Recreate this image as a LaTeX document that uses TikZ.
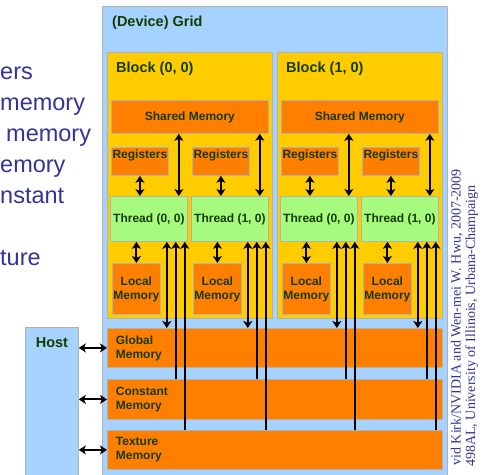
\documentclass[tikz,border=0pt]{standalone}
\usepackage{fontspec}
\setmainfont{Liberation Sans}
\newfontfamily\creditfont{Liberation Serif}
\usepackage{xcolor}
\usetikzlibrary{arrows.meta,positioning,calc}

\definecolor{gridblue}{HTML}{A6D2FF}
\definecolor{blockyellow}{HTML}{FFCC00}
\definecolor{memorange}{HTML}{FF7F00}
\definecolor{threadgreen}{HTML}{A6FA7E}
\definecolor{lblgreen}{HTML}{143C00}
\definecolor{slideblue}{HTML}{333399}

\begin{document}
\begin{tikzpicture}[
  x=1pt, y=-1pt,
  box/.style={draw=black!30, line width=0.8pt, anchor=north west, inner sep=0pt,
    font=\bfseries\fontsize{12}{14}\selectfont, text=lblgreen, align=center},
  head/.style={font=\bfseries\fontsize{14.5}{16}\selectfont, text=lblgreen, inner sep=0pt},
  membox/.style={box, fill=memorange},
  bigmem/.style={membox, minimum width=335, minimum height=39, text width=318, align=left},
  arr/.style={{Stealth[length=7pt, width=9pt, inset=1.8pt]}-{Stealth[length=7pt, width=9pt, inset=1.8pt]},
    line width=1.9pt},
  arrup/.style={{Stealth[length=7pt, width=9pt, inset=1.8pt]}-, line width=1.9pt},
  slide/.style={anchor=base west, inner sep=0pt, text=slideblue, font=\fontsize{23.5}{28}\selectfont},
  credit/.style={rotate=90, anchor=base east, inner sep=0pt, text=slideblue,
    font=\creditfont\fontsize{14}{16}\selectfont}
]
  \path[use as bounding box, clip] (0,0) rectangle (490,474);

  % slide text cut off on the left
  \foreach \x/\y/\txt [count=\i] in {0/79/ers, 0/110/memory, 6/141/memory, 0/172/emory, 0/203/nstant, 0/265/ture}
    \node[slide] (line\i) at (\x,\y) {\txt};

  \node[box, fill=gridblue, minimum width=345, minimum height=480,
    label={[head, anchor=base west, xshift=10pt, yshift=-20.5pt]north west:(Device) Grid}] (grid) at (102,6) {};
  \node[box, fill=gridblue, minimum width=53, minimum height=160,
    label={[head, anchor=base, yshift=-20pt]north:Host}] (host) at (25,327) {};

  \node[bigmem] (glob) at (107,328) {Global\\Memory};
  \node[bigmem, minimum height=40] (const) at (107,379) {Constant\\Memory};
  \node[bigmem] (tex) at (107,430) {Texture\\Memory};
  \foreach \mem in {glob,const,tex}
    \draw[arr] (\mem.west -| host.east) -- (\mem.west);

  \foreach \bx in {0,1} {
    \node[box, fill=blockyellow, minimum width=165, minimum height=266,
      label={[head, anchor=base west, xshift=9pt, yshift=-20pt]north west:Block (\bx, 0)}] (blk\bx) at (107+170*\bx,52) {};
    \node[membox, minimum width=157, minimum height=33] (sh\bx) at (111+170*\bx,100) {Shared Memory};
    \foreach \tx in {0,1} {
      \node[box, fill=threadgreen, minimum width=77, minimum height=45] (thr\bx\tx) at (110+170*\bx+81*\tx,196) {Thread (\tx, 0)};
      \node[membox, minimum width=57, minimum height=28, text depth=14pt] (reg\bx\tx) at (111+170*\bx+81*\tx,147) {Registers};
      \node[membox, minimum width=48, minimum height=51] (loc\bx\tx) at (112+170*\bx+81*\tx,263) {Local\\Memory};
      \draw[arr] (reg\bx\tx.south) -- (reg\bx\tx.south |- thr\bx\tx.north);
      \draw[arr] (thr\bx\tx.south -| loc\bx\tx.north) -- (loc\bx\tx.north);
      \draw[arr] ($(thr\bx\tx.north east)+(-9,0)$) -- ($(thr\bx\tx.north east |- sh\bx.south)+(-9,0)$);
      \foreach \dx/\st/\mem in {-21/arr/glob, -12/arrup/const, -3/arrup/tex}
        \draw[\st] ($(thr\bx\tx.south east)+(\dx,0)$) -- ($(thr\bx\tx.south east |- \mem.north)+(\dx,0)$);
    }
  }

  \node[credit] (credit1) at (460.5,169) {vid Kirk/NVIDIA and Wen-mei W. Hwu, 2007-2009};
  \node[credit] (credit2) at (475,185) {498AL, University of Illinois, Urbana-Champaign};
\end{tikzpicture}
\end{document}
